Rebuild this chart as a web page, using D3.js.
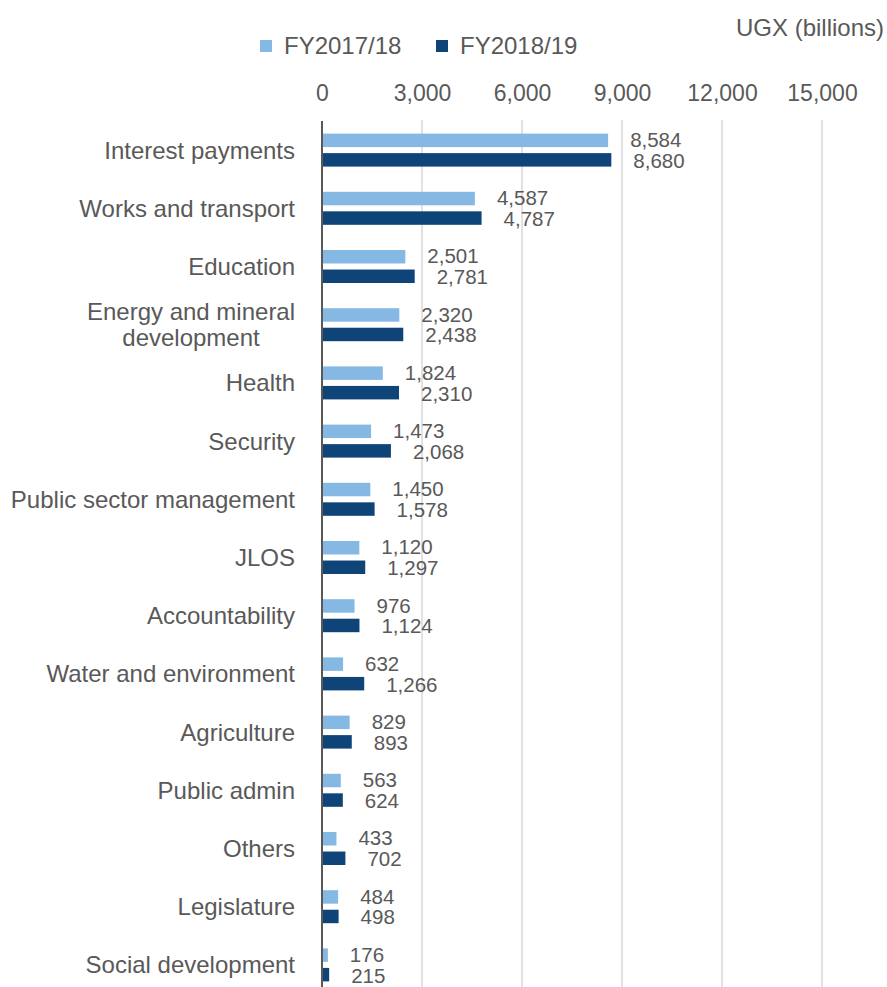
<!DOCTYPE html>
<html><head><meta charset="utf-8">
<script src="https://cdn.jsdelivr.net/npm/d3@7"></script>
<style>body{margin:0;background:#fff;} text{font-family:"Liberation Sans",Arial,sans-serif;fill:#595959;}</style>
</head><body>
<svg id="c" width="887" height="987"></svg>
<script>
const categories = ["Interest payments","Works and transport","Education","Energy and mineral development","Health","Security","Public sector management","JLOS","Accountability","Water and environment","Agriculture","Public admin","Others","Legislature","Social development"];
const fy1718 = [8584,4587,2501,2320,1824,1473,1450,1120,976,632,829,563,433,484,176];
const fy1819 = [8680,4787,2781,2438,2310,2068,1578,1297,1124,1266,893,624,702,498,215];
const seriesNames = ["FY2017/18","FY2018/19"];
const tickValues = [0,3000,6000,9000,12000,15000];
const colors = ["#85B8E3","#0E4478"];

const svg = d3.select("#c");
const x = d3.scaleLinear().domain([0,15000]).range([322,822]);
const y = d3.scaleBand().domain(categories).range([121,994]);
const sub = d3.scaleBand().domain([0,1]).range([0,33]).paddingInner(0.31);
const fmt = d3.format(",");

// gridlines
svg.append("g").selectAll("line").data(tickValues.slice(1)).join("line")
  .attr("x1",d=>x(d)).attr("x2",d=>x(d)).attr("y1",120).attr("y2",987)
  .attr("stroke","#d9d9d9").attr("stroke-width",1.5);

// top axis
const ax = svg.append("g").attr("transform","translate(0,93)")
  .call(d3.axisTop(x).tickValues(tickValues).tickFormat(fmt).tickSize(0).tickPadding(0));
ax.select(".domain").remove();
ax.selectAll("text").attr("font-size",23).style("fill","#595959").attr("dy","0.35em");

const series = [fy1718, fy1819];
const labelShift = [-0.5, 0.7];
series.forEach((vals,si)=>{
  const g = svg.append("g");
  g.selectAll("rect").data(categories).join("rect")
    .attr("x",x(0)).attr("y",(d)=>y(d)+y.bandwidth()/2-16.5+sub(si))
    .attr("width",(d,i)=>x(vals[i])-x(0)).attr("height",sub.bandwidth())
    .attr("fill",colors[si]);
  g.selectAll("text").data(categories).join("text")
    .attr("x",(d,i)=>x(vals[i])+22).attr("y",(d)=>y(d)+y.bandwidth()/2-16.5+sub(si)+sub.bandwidth()/2+labelShift[si])
    .attr("dy","0.35em").attr("font-size",20.5).text((d,i)=>fmt(vals[i]));
});

// category labels
const lab = svg.append("g");
categories.forEach(c=>{
  const cy = y(c)+y.bandwidth()/2;
  if(c==="Energy and mineral development"){
    const t = lab.append("text").attr("text-anchor","middle").attr("x",191).attr("font-size",24);
    t.append("tspan").attr("x",191).attr("y",cy-13).attr("dy","0.35em").text("Energy and mineral");
    t.append("tspan").attr("x",191).attr("y",cy+13).attr("dy","0.35em").text("development");
  } else {
    lab.append("text").attr("x",295).attr("y",cy).attr("dy","0.35em").attr("text-anchor","end").attr("font-size",24).text(c);
  }
});

// axis line
svg.append("line").attr("x1",x(0)).attr("x2",x(0)).attr("y1",121).attr("y2",987).attr("stroke","#595959").attr("stroke-width",2);

// legend
const legX = [260,436];
seriesNames.forEach((n,i)=>{
  svg.append("rect").attr("x",legX[i]).attr("y",40).attr("width",12).attr("height",12).attr("fill",colors[i]);
  svg.append("text").attr("x",legX[i]+24).attr("y",46).attr("dy","0.35em").attr("font-size",24).text(n);
});
svg.append("text").attr("x",884).attr("y",28).attr("dy","0.35em").attr("text-anchor","end").attr("font-size",24).text("UGX (billions)");
</script>
</body></html>
